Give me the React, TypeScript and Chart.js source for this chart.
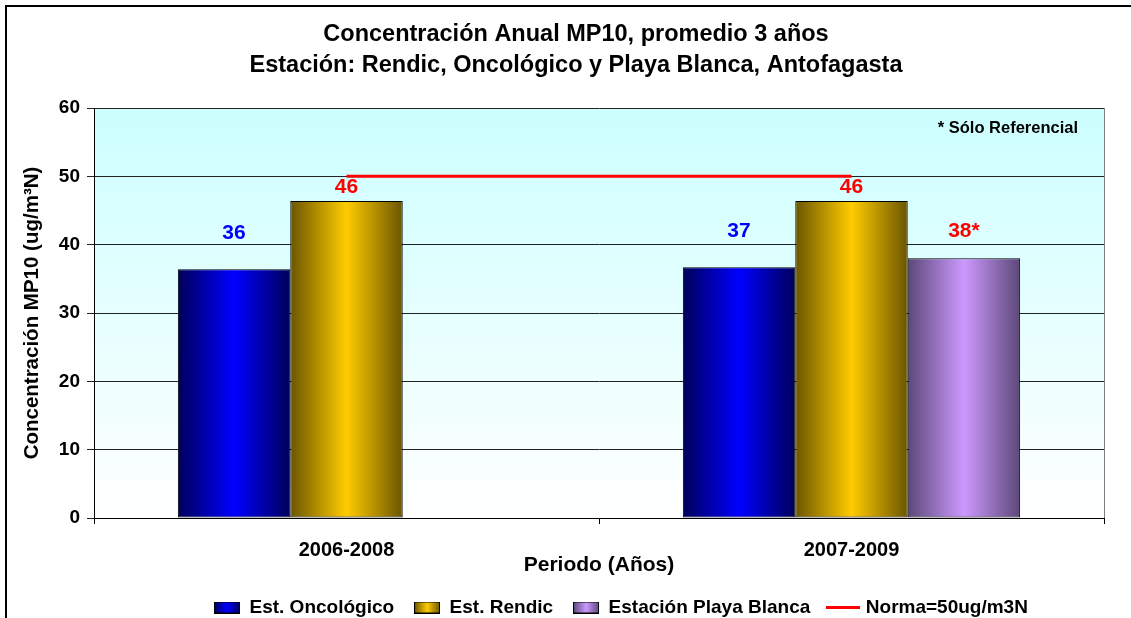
import React, { useEffect, useRef } from 'react';
import { Chart, registerables } from 'chart.js';

Chart.register(...registerables);

// ---- data ----
const categories = ['2006-2008', '2007-2009'];
const oncologico = [36.4, 36.7];
const rendic = [46.4, 46.4];
const playaBlanca: (number | null)[] = [null, 38.0];
const norma = [50, 50];
const yTickValues = [0, 10, 20, 30, 40, 50, 60];
const seriesNames = ['Est. Oncológico', 'Est. Rendic', 'Estación Playa Blanca', 'Norma=50ug/m3N'];
const labelSuffix = ['', '', '*'];
const titleLines = [
  'Concentración Anual MP10, promedio 3 años',
  'Estación: Rendic, Oncológico y Playa Blanca, Antofagasta',
];
const xTitle = 'Periodo (Años)';
const yTitle = 'Concentración MP10 (ug/m³N)';
const noteText = '* Sólo Referencial';

// ---- styles ----
const FONT = '"Liberation Sans", Arial, Helvetica, sans-serif';
const CANVAS_W = 1166;
const CANVAS_H = 620;
const barEdge = ['#00005A', '#6A5500', '#5C4878'];
const barMid = ['#0000FF', '#FFCC00', '#CC99FF'];
const labelColors = ['#0000FF', '#FF0000', '#FF0000'];
const labelOffsets = [36, 14, 27];
const LEGEND_PAD = 20;
const LEGEND_LEFT = 207 - LEGEND_PAD;
const TITLE_SHIFT = 14;

function makeBarIcon(edge: string, mid: string) {
  const c = document.createElement('canvas');
  c.width = 26;
  c.height = 12;
  const g = c.getContext('2d')!;
  const gr = g.createLinearGradient(0, 0, 26, 0);
  gr.addColorStop(0, edge);
  gr.addColorStop(0.5, mid);
  gr.addColorStop(1, edge);
  g.fillStyle = gr;
  g.fillRect(0, 0, 26, 12);
  g.strokeStyle = '#000';
  g.lineWidth = 1;
  g.strokeRect(0.5, 0.5, 25, 11);
  return c;
}

function makeLineIcon() {
  const c = document.createElement('canvas');
  c.width = 34;
  c.height = 3;
  const g = c.getContext('2d')!;
  g.fillStyle = '#FF0000';
  g.fillRect(0, 0, 34, 3);
  return c;
}

export default function App() {
  const ref = useRef<HTMLCanvasElement>(null);

  useEffect(() => {
    const canvas = ref.current;
    if (!canvas) return;
    const icons = [
      makeBarIcon(barEdge[0], barMid[0]),
      makeBarIcon(barEdge[1], barMid[1]),
      makeBarIcon(barEdge[2], barMid[2]),
      makeLineIcon(),
    ];

    const deco = {
      id: 'deco',
      afterLayout(chart: any) {
        const lg = chart.legend;
        if (lg) {
          const w = lg.right - lg.left;
          lg.left = LEGEND_LEFT;
          lg.right = LEGEND_LEFT + w;
        }
        const tb = chart.titleBlock;
        if (tb) {
          tb.left += TITLE_SHIFT;
          tb.right += TITLE_SHIFT;
        }
      },
      beforeDraw(chart: any) {
        const { ctx, chartArea: a } = chart;
        const g = ctx.createLinearGradient(0, a.top, 0, a.bottom);
        g.addColorStop(0, '#CCFFFF');
        g.addColorStop(1, '#FFFFFF');
        ctx.save();
        ctx.fillStyle = g;
        ctx.fillRect(a.left, a.top, a.right - a.left, a.bottom - a.top);
        ctx.restore();
      },
      beforeDatasetsDraw(chart: any) {
        const { ctx, chartArea: a } = chart;
        ctx.save();
        ctx.strokeStyle = '#808080';
        ctx.lineWidth = 1;
        ctx.beginPath();
        ctx.moveTo(Math.round(a.right) + 0.5, a.top);
        ctx.lineTo(Math.round(a.right) + 0.5, a.bottom);
        ctx.stroke();
        ctx.restore();
        for (let d = 0; d < 3; d++) {
          const meta = chart.getDatasetMeta(d);
          meta.data.forEach((el: any) => {
            const x0 = el.x - el.width / 2;
            const x1 = el.x + el.width / 2;
            const gr = ctx.createLinearGradient(x0, 0, x1, 0);
            gr.addColorStop(0, barEdge[d]);
            gr.addColorStop(0.5, barMid[d]);
            gr.addColorStop(1, barEdge[d]);
            el.options = Object.assign({}, el.options, { backgroundColor: gr });
          });
        }
      },
      afterDatasetsDraw(chart: any) {
        const { ctx, chartArea: a } = chart;
        ctx.save();
        ctx.textAlign = 'center';
        ctx.textBaseline = 'middle';
        ctx.font = `bold 21px ${FONT}`;
        for (let d = 0; d < 3; d++) {
          const meta = chart.getDatasetMeta(d);
          const data = chart.data.datasets[d].data;
          meta.data.forEach((el: any, i: number) => {
            const v = data[i];
            if (v === null || v === undefined) return;
            ctx.fillStyle = labelColors[d];
            ctx.fillText(String(Math.round(v as number)) + labelSuffix[d], el.x, el.y - labelOffsets[d]);
          });
        }
        ctx.font = `bold 16.5px ${FONT}`;
        ctx.fillStyle = '#000';
        ctx.textAlign = 'right';
        ctx.fillText(noteText, a.right - 26, a.top + 20);
        ctx.restore();
      },
    };

    const chart = new Chart(canvas, {
      type: 'bar',
      data: {
        labels: categories,
        datasets: [
          { label: seriesNames[0], data: oncologico, backgroundColor: barMid[0], borderColor: '#000', borderWidth: 1, borderSkipped: false },
          { label: seriesNames[1], data: rendic, backgroundColor: barMid[1], borderColor: '#000', borderWidth: 1, borderSkipped: false },
          { label: seriesNames[2], data: playaBlanca, backgroundColor: barMid[2], borderColor: '#000', borderWidth: 1, borderSkipped: false },
          {
            type: 'line',
            label: seriesNames[3],
            data: norma,
            borderColor: '#FF0000',
            backgroundColor: '#FF0000',
            borderWidth: 3,
            pointRadius: 0,
            fill: false,
          } as any,
        ],
      },
      options: {
        animation: false,
        responsive: false,
        devicePixelRatio: 1,
        datasets: { bar: { categoryPercentage: 0.668, barPercentage: 1 } },
        layout: { padding: { left: 13, right: 69, top: 0, bottom: 0 } },
        plugins: {
          title: {
            display: true,
            text: titleLines,
            color: '#000',
            font: { family: FONT, size: 23.5, weight: 'bold', lineHeight: 31 / 23.5 },
            padding: { top: 12.5, bottom: 26.5 },
          },
          legend: {
            position: 'bottom',
            align: 'start',
            labels: {
              usePointStyle: true,
              pointStyleWidth: 26,
              padding: LEGEND_PAD,
              color: '#000',
              font: { family: FONT, size: 19, weight: 'bold' },
              generateLabels: (c: any) =>
                c.data.datasets.map((ds: any, i: number) => ({
                  text: ds.label,
                  pointStyle: icons[i],
                  fillStyle: 'transparent',
                  strokeStyle: 'transparent',
                  lineWidth: 0,
                  hidden: false,
                  datasetIndex: i,
                  fontColor: '#000',
                })),
            },
          },
          tooltip: { enabled: false },
        },
        scales: {
          x: {
            type: 'category',
            offset: true,
            grid: { display: true, drawOnChartArea: false, drawTicks: true, tickLength: 6, offset: true, color: '#000' },
            border: { display: true, color: '#000', width: 1 },
            ticks: { color: '#000', padding: 14, font: { family: FONT, size: 20, weight: 'bold' } },
            title: {
              display: true,
              text: xTitle,
              color: '#000',
              font: { family: FONT, size: 21, weight: 'bold' },
              padding: { top: 0, bottom: 0 },
            },
            afterFit: (s: any) => {
              s.height = 60;
            },
          },
          y: {
            type: 'linear',
            min: 0,
            max: 60,
            afterBuildTicks: (s: any) => {
              s.ticks = yTickValues.map((v) => ({ value: v }));
            },
            grid: { color: '#222', tickLength: 7, drawTicks: true },
            border: { display: true, color: '#000', width: 1 },
            ticks: { padding: 7, color: '#000', font: { family: FONT, size: 19, weight: 'bold' } },
            title: {
              display: true,
              text: yTitle,
              color: '#000',
              font: { family: FONT, size: 20.5, weight: 'bold' },
              padding: { top: 0, bottom: 0 },
            },
            afterFit: (s: any) => {
              s.width = 74;
            },
          },
        },
      } as any,
      plugins: [deco as any],
    });

    return () => chart.destroy();
  }, []);

  return (
    <div style={{ position: 'fixed', left: 0, top: 0, right: 0, bottom: 0, overflow: 'hidden', background: '#fff' }}>
      <div
        style={{
          position: 'absolute',
          left: 5,
          top: 5,
          width: CANVAS_W,
          height: CANVAS_H,
          border: '2px solid #000',
        }}
      >
        <canvas ref={ref} width={CANVAS_W} height={CANVAS_H} style={{ display: 'block', width: CANVAS_W, height: CANVAS_H }} />
      </div>
    </div>
  );
}
